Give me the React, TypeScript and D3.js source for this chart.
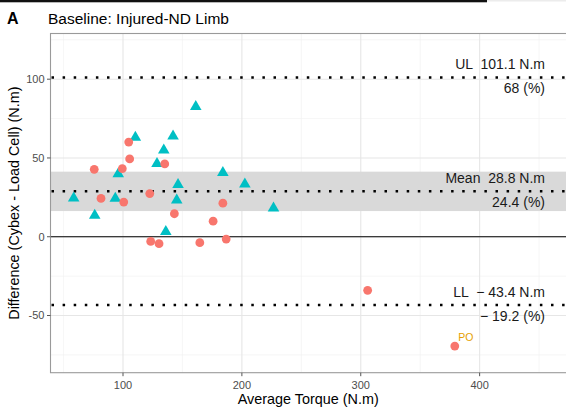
import React from "react";
import * as d3 from "d3";

const W = 566;
const H = 408;

const circlesX = [75.8, 81.5, 104.8, 105.6, 99.4, 100.6, 122.5, 135.1, 123.3, 130.3, 143.2, 164.6, 175.8, 184, 186.8, 305.8, 379.1];
const circlesY = [42.8, 24.3, 60.1, 49.4, 43.2, 22, 27.4, 46.2, -3, -4.4, 14.6, -3.8, 9.9, 21.3, -1.5, -34, -69.4];

const trianglesX = [58.5, 76.2, 110.4, 96, 93.5, 142.1, 134.3, 128.6, 146.3, 145.2, 136, 161.2, 184, 202.5, 226.6];
const trianglesY = [24.5, 13.5, 63.1, 39.9, 24.3, 63.9, 54.9, 46.4, 33.1, 23.2, 3.2, 82.5, 40.7, 33.4, 18.2];

const limitValues = [101.1, 28.8, -43.4];
const limitAbove = ["UL  101.1 N.m", "Mean  28.8 N.m", "LL  \u2212 43.4 N.m"];
const limitBelow = ["68 (%)", "24.4 (%)", "\u2212 19.2 (%)"];
const meanBand = [16.3, 41.3];
const labelX = 455;

const outlierLabel = "PO";
const outlierIndex = 16;

const xTicks = [100, 200, 300, 400];
const xMinor = [50, 150, 250, 350, 450];
const yTicks = [-50, 0, 50, 100];
const yMinor = [-75, -25, 25, 75, 125];

const FONT = "'Liberation Sans', Arial, Helvetica, sans-serif";

export default function App() {
  const left = 50.5, right = 567, top = 33.5, bottom = 372.7;
  const x = d3.scaleLinear().domain([39, 473.5]).range([left, right]);
  const y = d3.scaleLinear().domain([-86.3, 129]).range([bottom, top]);
  const tri = d3.symbol().type(d3.symbolTriangle).size(58)();

  return (
    <svg width={W} height={H} style={{ position: "absolute", left: 0, top: 0, background: "#fff" }}>
      <rect x={0} y={0} width={487} height={2.3} fill="#111" />
      <rect x={487} y={0} width={W - 487} height={1.5} fill="#ececec" />
      <text x={7} y={23.5} fontFamily={FONT} fontWeight="bold" fontSize={16} fill="#000">A</text>
      <text x={48} y={23.5} fontFamily={FONT} fontSize={15.5} fill="#000">Baseline: Injured-ND Limb</text>

      {/* grid */}
      {xMinor.map((v) => (
        <line key={"xm" + v} x1={x(v)} x2={x(v)} y1={top} y2={bottom} stroke="#f2f2f2" strokeWidth={0.7} />
      ))}
      {yMinor.filter((v) => y(v) > top).map((v) => (
        <line key={"ym" + v} x1={left} x2={right} y1={y(v)} y2={y(v)} stroke="#f2f2f2" strokeWidth={0.7} />
      ))}
      {xTicks.map((v) => (
        <line key={"xg" + v} x1={x(v)} x2={x(v)} y1={top} y2={bottom} stroke="#e6e6e6" strokeWidth={1.1} />
      ))}
      {yTicks.map((v) => (
        <line key={"yg" + v} x1={left} x2={right} y1={y(v)} y2={y(v)} stroke="#e6e6e6" strokeWidth={1.1} />
      ))}

      {/* mean CI band */}
      <rect x={left} y={y(meanBand[1])} width={right - left} height={y(meanBand[0]) - y(meanBand[1])} fill="#d9d9d9" />

      {/* zero line */}
      <line x1={left} x2={right} y1={y(0)} y2={y(0)} stroke="#000" strokeWidth={1.1} />

      {/* limit lines */}
      {limitValues.map((v) => (
        <line key={"l" + v} x1={left + 1} x2={right} y1={y(v)} y2={y(v)} stroke="#000" strokeWidth={2.5} strokeDasharray="2.5 8.6" />
      ))}

      {/* points */}
      {trianglesX.map((v, i) => (
        <path key={"t" + i} d={tri} transform={`translate(${x(v)},${y(trianglesY[i])})`} fill="#00BFC4" />
      ))}
      {circlesX.map((v, i) => (
        <circle key={"c" + i} cx={x(v)} cy={y(circlesY[i])} r={4.4} fill="#F8766D" />
      ))}
      <text x={x(circlesX[outlierIndex]) + 3.5} y={y(circlesY[outlierIndex]) - 5} fontFamily={FONT} fontSize={10.5} fill="#E69F00">{outlierLabel}</text>

      {/* limit labels */}
      {limitValues.map((v, i) => (
        <g key={"lab" + i} style={{ whiteSpace: "pre" }}>
          <text x={x(labelX)} y={y(v) - 8} textAnchor="end" fontFamily={FONT} fontSize={14} fill="#1a1a1a" xmlSpace="preserve">{limitAbove[i]}</text>
          <text x={x(labelX)} y={y(v) + 16} textAnchor="end" fontFamily={FONT} fontSize={14} fill="#1a1a1a" xmlSpace="preserve">{limitBelow[i]}</text>
        </g>
      ))}

      {/* panel border */}
      <rect x={left} y={top} width={right - left + 2} height={bottom - top} fill="none" stroke="#9a9a9a" strokeWidth={1.1} />

      {/* axes ticks & labels */}
      {xTicks.map((v) => (
        <g key={"xt" + v}>
          <line x1={x(v)} x2={x(v)} y1={bottom} y2={bottom + 3.5} stroke="#555" strokeWidth={1} />
          <text x={x(v)} y={389} textAnchor="middle" fontFamily={FONT} fontSize={11} fill="#4d4d4d">{v}</text>
        </g>
      ))}
      {yTicks.map((v) => (
        <g key={"yt" + v}>
          <line x1={left - 3.5} x2={left} y1={y(v)} y2={y(v)} stroke="#555" strokeWidth={1} />
          <text x={left - 6} y={y(v) + 3.9} textAnchor="end" fontFamily={FONT} fontSize={11} fill="#4d4d4d">{v}</text>
        </g>
      ))}
      <text x={(left + 566) / 2} y={404} textAnchor="middle" fontFamily={FONT} fontSize={14.4} fill="#000">Average Torque (N.m)</text>
      <text transform={`translate(18.7,${(top + bottom) / 2}) rotate(-90)`} textAnchor="middle" fontFamily={FONT} fontSize={14.4} fill="#000">Difference (Cybex - Load Cell) (N.m)</text>
    </svg>
  );
}
